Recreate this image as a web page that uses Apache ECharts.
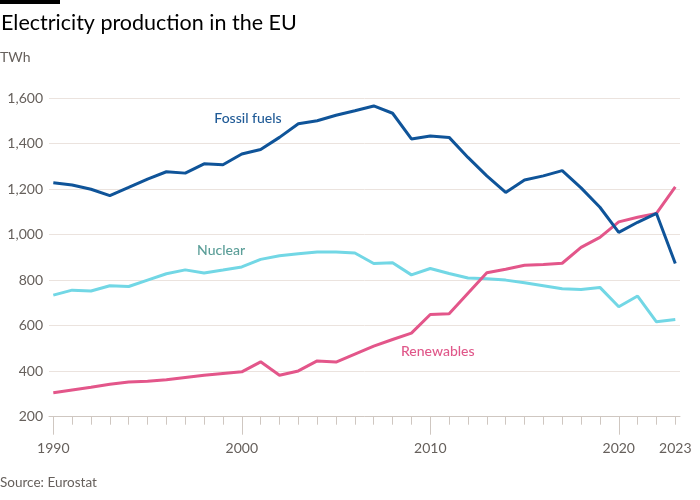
<!DOCTYPE html>
<html>
<head>
<meta charset="utf-8">
<script src="https://cdn.jsdelivr.net/npm/echarts@6/dist/echarts.min.js"></script>
<style>html,body{margin:0;padding:0;background:#fff}#c{width:700px;height:500px}</style>
</head>
<body>
<div id="c"></div>
<script>
const years = [];
for (let y = 1990; y <= 2023; y++) years.push(y);

const fossil = [1228,1218,1199,1171,1207,1244,1276,1270,1311,1307,1354,1374,1427,1487,1500,1524,1544,1565,1533,1420,1433,1427,1339,1258,1185,1240,1258,1281,1205,1120,1010,1054,1093,873];
const nuclear = [734,756,752,775,772,800,828,845,831,844,858,891,907,916,924,923,919,873,876,823,851,829,809,806,800,788,775,762,759,768,683,730,617,627];
const renewables = [305,317,329,343,352,356,362,372,382,390,397,441,382,401,445,440,475,510,539,567,649,652,742,832,848,865,869,874,944,988,1056,1076,1093,1210];

const yTicks = [200,400,600,800,1000,1200,1400,1600];
const majorYears = [1990,2000,2010,2020];
const labelYears = [1990,2000,2010,2020,2023];

const pairs = arr => years.map((y,i)=>[y,arr[i]]);

const chart = echarts.init(document.getElementById('c'), null, {renderer:'canvas'});
const FONT = 'Lato, "Noto Sans", sans-serif';
const xmin = 1990 - 4.3/18.85, xmax = 2023 + 4.7/18.85;

chart.setOption({
  animation:false,
  textStyle:{fontFamily:FONT},
  graphic:[
    {type:'rect', left:0, top:0, shape:{width:60,height:4}, style:{fill:'#000'}},
    {type:'text', left:1, top:12, style:{text:'Electricity production in the EU', font:'21.5px '+FONT, fill:'#000'}},
    {type:'text', left:0, top:50, style:{text:'TWh', font:'14px '+FONT, fill:'#66605c'}},
    {type:'text', left:0, top:476, style:{text:'Source: Eurostat', font:'13.5px '+FONT, fill:'#66605c'}}
  ],
  grid:{left:49, right:20, top:98, bottom:83.3, containLabel:false},
  xAxis:[
    {type:'value', min:xmin, max:xmax, position:'bottom',
     axisLine:{show:true, lineStyle:{color:'#cfc7c1', width:1}},
     axisTick:{show:true, length:8, customValues:years, lineStyle:{color:'#cfc7c1'}},
     axisLabel:{show:false}, splitLine:{show:false}},
    {type:'value', min:xmin, max:xmax, position:'bottom',
     axisLine:{show:false},
     axisTick:{show:true, length:18, customValues:majorYears, lineStyle:{color:'#cfc7c1'}},
     axisLabel:{show:true, customValues:labelYears, margin:25, color:'#66605c', fontSize:14, fontFamily:FONT, formatter:v=>String(Math.round(v))},
     splitLine:{show:false}}
  ],
  yAxis:{type:'value', min:200, max:1600, interval:200,
    axisLine:{show:false}, axisTick:{show:false},
    axisLabel:{margin:6, color:'#66605c', fontSize:14, fontFamily:FONT,
      formatter:v=>v.toLocaleString('en-US')},
    splitLine:{show:true, lineStyle:{color:'#ebe3de', width:1}}
  },
  series:[
    {name:'Fossil fuels', type:'line', data:pairs(fossil), symbol:'none', lineStyle:{color:'#0f5499', width:3}, z:3,
     markPoint:{symbol:'circle', symbolSize:0, silent:true,
       label:{show:true, position:'inside', color:'#1f5a96', fontSize:14, fontFamily:FONT, fontWeight:500, formatter:'Fossil fuels'},
       data:[{coord:[2000.33,1512]}]}},
    {name:'Nuclear', type:'line', data:pairs(nuclear), symbol:'none', lineStyle:{color:'#72d7e5', width:3}, z:2,
     markPoint:{symbol:'circle', symbolSize:0, silent:true,
       label:{show:true, position:'inside', color:'#5b9e98', fontSize:14, fontFamily:FONT, fontWeight:500, formatter:'Nuclear'},
       data:[{coord:[1998.9,929]}]}},
    {name:'Renewables', type:'line', data:pairs(renewables), symbol:'none', lineStyle:{color:'#e3568a', width:3}, z:2,
     markPoint:{symbol:'circle', symbolSize:0, silent:true,
       label:{show:true, position:'inside', color:'#e0588a', fontSize:14, fontFamily:FONT, fontWeight:500, formatter:'Renewables'},
       data:[{coord:[2010.4,488]}]}}
  ]
});
</script>
</body>
</html>
